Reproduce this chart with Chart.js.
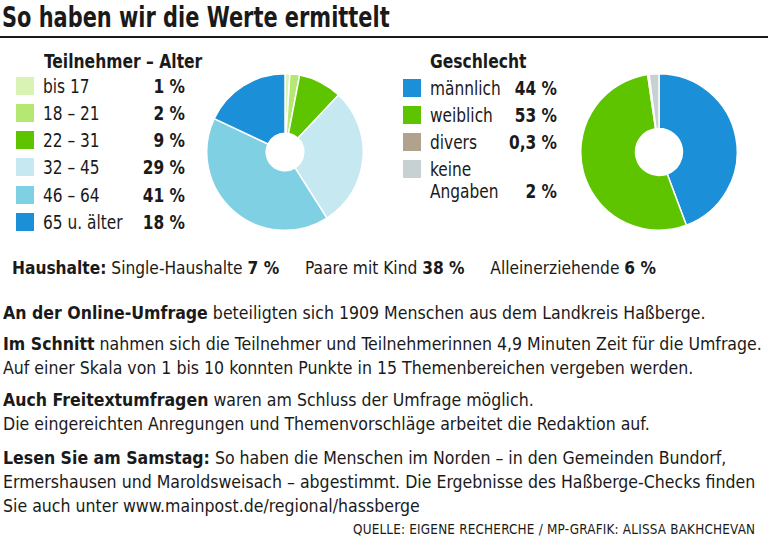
<!DOCTYPE html>
<html>
<head>
<meta charset="utf-8">
<script src="https://cdn.jsdelivr.net/npm/chart.js@4/dist/chart.umd.min.js"></script>
<style>
  html, body { margin: 0; padding: 0; background: #fff; }
  body { width: 768px; height: 541px; position: relative; overflow: hidden;
         font-family: "DejaVu Sans Condensed", "Liberation Sans", sans-serif; color: #1a1a1a; }
  .abs { position: absolute; white-space: nowrap; transform-origin: left top; }
  .title { left: 2px; top: 1px; font-size: 28px; font-weight: bold; transform: scaleX(0.83); }
  .rule { left: 0; top: 36px; width: 768px; height: 2px; background: #1a1a1a; }
  .lhead { font-size: 19px; font-weight: bold; transform: scaleX(0.91); }
  .row { font-size: 19px; line-height: 22px; transform: scaleX(0.9); }
  .sw { position: absolute; width: 18px; height: 18px; }
  .pct { position: absolute; text-align: right; font-weight: bold; white-space: nowrap; transform-origin: right top; }
  .txt { font-size: 18px; line-height: 24px; transform: scaleX(0.975); }
  #households { transform: scaleX(0.955); }
  .src { left: 353px; top: 521px; font-size: 13.5px; letter-spacing: 0.2px; transform: scaleX(0.99); }
  canvas { position: absolute; }
</style>
</head>
<body>
<div class="abs title">So haben wir die Werte ermittelt</div>
<div class="abs rule"></div>

<div class="abs lhead" style="left:44px;top:50px;">Teilnehmer – Alter</div>
<div id="ageLegend"></div>
<canvas id="ageChart" width="160" height="160" style="left:205px;top:72px;"></canvas>

<div class="abs lhead" style="left:430px;top:50px;">Geschlecht</div>
<div id="genderLegend"></div>
<canvas id="genderChart" width="160" height="160" style="left:579px;top:72px;"></canvas>

<div id="households" class="abs txt" style="left:12px;top:256px;"></div>

<div class="abs txt" style="left:3px;top:301px;"><b>An der Online-Umfrage</b> beteiligten sich 1909 Menschen aus dem Landkreis Haßberge.</div>
<div class="abs txt" style="left:3px;top:332px;"><b>Im Schnitt</b> nahmen sich die Teilnehmer und Teilnehmerinnen 4,9 Minuten Zeit für die Umfrage.<br>Auf einer Skala von 1 bis 10 konnten Punkte in 15 Themenbereichen vergeben werden.</div>
<div class="abs txt" style="left:3px;top:388px;"><b>Auch Freitextumfragen</b> waren am Schluss der Umfrage möglich.<br>Die eingereichten Anregungen und Themenvorschläge arbeitet die Redaktion auf.</div>
<div class="abs txt" style="left:3px;top:446px;"><b>Lesen Sie am Samstag:</b> So haben die Menschen im Norden – in den Gemeinden Bundorf,<br>Ermershausen und Maroldsweisach – abgestimmt. Die Ergebnisse des Haßberge-Checks finden<br>Sie auch unter www.mainpost.de/regional/hassberge</div>
<div class="abs src">QUELLE: EIGENE RECHERCHE / MP-GRAFIK: ALISSA BAKHCHEVAN</div>

<script>
// Teilnehmer – Alter
const ageLabels = ['bis 17', '18 – 21', '22 – 31', '32 – 45', '46 – 64', '65 u. älter'];
const ageValues = [1, 2, 9, 29, 41, 18];
const ageColors = ['#d8f3b4', '#b4e872', '#5ec400', '#c6e9f1', '#80d0e4', '#1b8fd7'];

// Geschlecht
const genderLabels = ['männlich', 'weiblich', 'divers', 'keine Angaben'];
const genderValues = [44, 53, 0.3, 2];
const genderColors = ['#1b8fd7', '#5ec400', '#b0a28c', '#c8d1d1'];

// Haushalte
const householdLabels = ['Single-Haushalte', 'Paare mit Kind', 'Alleinerziehende'];
const householdValues = [7, 38, 6];

const fmt = v => String(v).replace('.', ',') + ' %';

function buildLegend(el, labels, values, colors, opts) {
  let html = '';
  labels.forEach((lab, i) => {
    const y = opts.rows[i];
    html += `<div class="sw" style="left:${opts.swX}px;top:${y + 2}px;background:${colors[i]}"></div>`;
    const text = opts.wrap && opts.wrap[i] ? opts.wrap[i] : lab;
    html += `<div class="abs row" style="left:${opts.txtX}px;top:${y}px;">${text}</div>`;
    const py = opts.pctY && opts.pctY[i] != null ? opts.pctY[i] : y;
    html += `<div class="pct row" style="left:${opts.pctR - 80}px;width:80px;top:${py}px;">${fmt(values[i])}</div>`;
  });
  el.innerHTML = html;
}

buildLegend(document.getElementById('ageLegend'), ageLabels, ageValues, ageColors, {
  swX: 16, txtX: 43, pctR: 185, rows: [75, 102, 129, 156, 184, 211]
});
buildLegend(document.getElementById('genderLegend'), genderLabels, genderValues, genderColors, {
  swX: 403, txtX: 430, pctR: 557, rows: [77, 104, 131, 158],
  wrap: { 3: 'keine<br>Angaben' }, pctY: { 3: 180 }
});

document.getElementById('households').innerHTML =
  '<b>Haushalte:</b> ' + householdLabels.map((l, i) =>
    `${l} <b>${householdValues[i]} %</b>`).join('<span style="display:inline-block;width:27px"></span>');

function donut(id, labels, values, colors, cutout, border) {
  new Chart(document.getElementById(id), {
    type: 'doughnut',
    data: {
      labels: labels,
      datasets: [{ data: values, backgroundColor: colors, borderColor: '#fff', borderWidth: border }]
    },
    options: {
      responsive: false,
      animation: false,
      cutout: cutout,
      layout: { padding: 1 },
      plugins: { legend: { display: false }, tooltip: { enabled: false } }
    }
  });
}

donut('ageChart', ageLabels, ageValues, ageColors, '24%', 1.5);
donut('genderChart', genderLabels, genderValues, genderColors, '30%', 1.5);
</script>
</body>
</html>
